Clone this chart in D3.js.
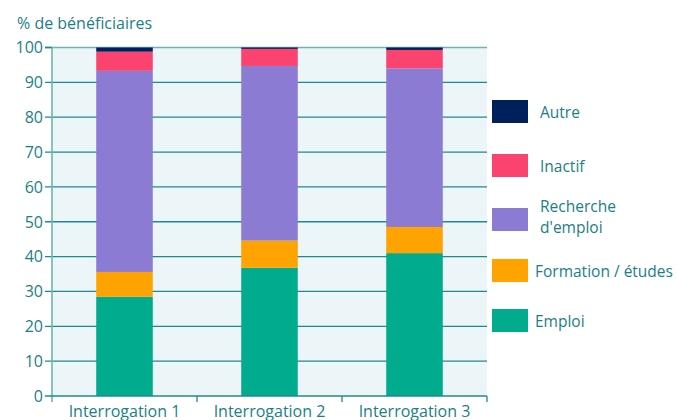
<!DOCTYPE html>
<html><head><meta charset="utf-8">
<script src="https://cdn.jsdelivr.net/npm/d3@7"></script>
<style>body{margin:0;background:#fff;}svg{display:block;}</style>
</head><body>
<svg id="c" width="677" height="420"></svg>
<script>
const categories = ["Interrogation 1", "Interrogation 2", "Interrogation 3"];
const seriesNames = ["Emploi", "Formation / études", "Recherche d'emploi", "Inactif", "Autre"];
const emploi = [28.5, 36.8, 41.0];
const formation = [7.1, 7.8, 7.5];
const recherche = [57.7, 50.1, 45.5];
const inactif = [5.5, 4.9, 5.3];
const autre = [1.2, 0.4, 0.7];
const yTicks = [0, 10, 20, 30, 40, 50, 60, 70, 80, 90, 100];
const colors = ["#00ab8e", "#ffa300", "#8c7bd2", "#fb4370", "#00205c"];
const legendLabels = [["Autre"], ["Inactif"], ["Recherche", "d'emploi"], ["Formation / études"], ["Emploi"]];

const values = [emploi, formation, recherche, inactif, autre];
const rows = categories.map((c, i) => {
  const r = {cat: c};
  seriesNames.forEach((s, j) => r[s] = values[j][i]);
  return r;
});
const stack = d3.stack().keys(seriesNames)(rows);

const svg = d3.select("#c");
const m = {l: 52, r: 487, t: 47.5, b: 396};
const x = d3.scaleBand().domain(categories).range([m.l, m.r]).paddingInner(0.61).paddingOuter(0.305);
const y = d3.scaleLinear().domain([0, 100]).range([m.b, m.t]);
const teal = "#1a8087";
const font = "'Open Sans', 'Noto Sans', sans-serif";

svg.append("rect").attr("x", m.l).attr("y", m.t).attr("width", m.r - m.l).attr("height", m.b - m.t).attr("fill", "#ecf5f8");

// gridlines
svg.append("g").selectAll("line").data(yTicks.filter(t => t > 0 && t < 100)).join("line")
  .attr("x1", m.l - 7).attr("x2", m.r).attr("y1", d => y(d)).attr("y2", d => y(d))
  .attr("stroke", "#1f8a8e").attr("stroke-width", 1.3);
// top line
svg.append("line").attr("x1", m.l - 7).attr("x2", m.r).attr("y1", y(100)).attr("y2", y(100))
  .attr("stroke", "#6fb3b9").attr("stroke-width", 1.6);
svg.append("line").attr("x1", m.l - 7).attr("x2", m.l).attr("y1", y(100)).attr("y2", y(100))
  .attr("stroke", "#1f8a8e").attr("stroke-width", 1.6);

// bars
svg.append("g").selectAll("g").data(stack).join("g").attr("fill", (d, i) => colors[i])
  .selectAll("rect").data(d => d).join("rect")
  .attr("x", d => x(d.data.cat)).attr("width", x.bandwidth())
  .attr("y", d => y(d[1])).attr("height", d => y(d[0]) - y(d[1]));

// y axis line
svg.append("line").attr("x1", m.l).attr("x2", m.l).attr("y1", m.t).attr("y2", m.b + 6)
  .attr("stroke", "#6fb3b9").attr("stroke-width", 1.6);
// bottom axis
svg.append("line").attr("x1", m.l - 7).attr("x2", m.r).attr("y1", m.b).attr("y2", m.b)
  .attr("stroke", "#1f8a8e").attr("stroke-width", 1.6);
// category boundary ticks
const bounds = categories.map(c => x(c) + x.bandwidth() + x.step() * x.paddingInner() / 2);
svg.append("g").selectAll("line").data(bounds).join("line")
  .attr("x1", d => d).attr("x2", d => d).attr("y1", m.b).attr("y2", m.b + 6)
  .attr("stroke", "#1f8a8e").attr("stroke-width", 1.3);

// y tick labels
svg.append("g").selectAll("text").data(yTicks).join("text")
  .attr("x", 43).attr("y", d => y(d)).attr("dy", "0.36em").attr("text-anchor", "end")
  .attr("fill", teal).attr("font-family", font).attr("font-size", 16).text(d => d);

// category labels
svg.append("g").selectAll("text").data(categories).join("text")
  .attr("x", d => x(d) + x.bandwidth() / 2).attr("y", 417).attr("text-anchor", "middle")
  .attr("fill", teal).attr("font-family", font).attr("font-size", 16).text(d => d);

// title
svg.append("text").attr("x", 17).attr("y", 29).attr("fill", teal).attr("font-family", font)
  .attr("font-size", 16).text("% de bénéficiaires");

// legend
const legY = [100, 154, 208, 259, 309];
const legTx = [540, 540, 540, 535, 535];
const lg = svg.append("g");
legendLabels.forEach((lab, i) => {
  const ci = colors.length - 1 - i;
  lg.append("rect").attr("x", 492).attr("y", legY[i]).attr("width", 36).attr("height", 23).attr("fill", colors[ci]);
  const t = lg.append("text").attr("fill", teal).attr("font-family", font).attr("font-size", 15.5);
  if (lab.length === 1) {
    t.append("tspan").attr("x", legTx[i]).attr("y", legY[i] + 18).text(lab[0]);
  } else {
    t.append("tspan").attr("x", legTx[i]).attr("y", legY[i] + 4).text(lab[0]);
    t.append("tspan").attr("x", legTx[i]).attr("y", legY[i] + 25).text(lab[1]);
  }
});
</script>
</body></html>
